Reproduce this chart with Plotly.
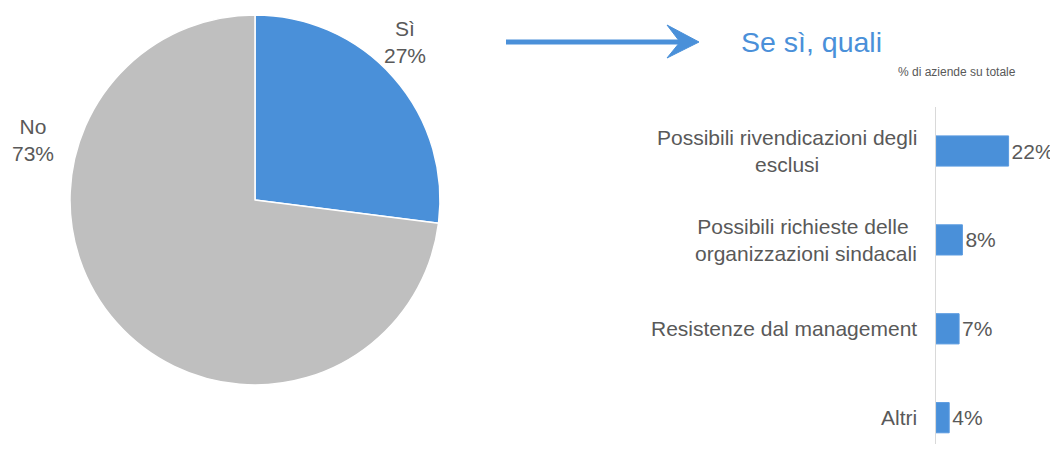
import plotly.graph_objects as go

# Pie data
pie_labels = ["Sì", "No"]
pie_values = [27, 73]
pie_colors = ["#4A90D9", "#BFBFBF"]

# Bar data
bar_categories = [
    "Possibili rivendicazioni degli<br>esclusi",
    "Possibili richieste delle <br>organizzazioni sindacali",
    "Resistenze dal management",
    "Altri",
]
bar_values = [22, 8, 7, 4]
bar_text = ["22%", "8%", "7%", "4%"]

title_text = "Se sì, quali"
subtitle_text = "% di aziende su totale"

OX, OY = 8, 8  # page body margin compensation
W, H = 1058 - OX, 452 - 2 * OY
BLUE = "#4A90D9"
GRAY_TXT = "#595959"
FONT = "Liberation Sans, Arial, sans-serif"

def px(x):
    return (x - OX) / W

def py(y):
    return 1 - (y - OY) / H

fig = go.Figure()

fig.add_trace(go.Pie(
    labels=pie_labels,
    values=pie_values,
    marker=dict(colors=pie_colors, line=dict(color="white", width=1.5)),
    sort=False,
    direction="clockwise",
    rotation=0,
    textinfo="none",
    hoverinfo="label+percent",
    domain=dict(x=[px(70), px(440)], y=[py(385), py(15)]),
    showlegend=False,
))

fig.add_trace(go.Bar(
    x=bar_values,
    y=list(range(len(bar_categories))),
    orientation="h",
    marker=dict(color=BLUE, line=dict(color="#5B9BE0", width=1)),
    text=bar_text,
    textposition="outside",
    textfont=dict(family=FONT, size=21, color=GRAY_TXT),
    cliponaxis=False,
    showlegend=False,
    xaxis="x",
    yaxis="y",
))

# y range so that band centres sit at 151, 240, 329, 418 px (screen)
top_px, bottom_px = 107, H + OY
step = 88.9
first_center = 151
y_top = 0 - (first_center - top_px) / step
y_bot = (len(bar_categories) - 1) + (bottom_px - (first_center + step * (len(bar_categories) - 1))) / step

fig.update_layout(
    width=W, height=H,
    margin=dict(l=0, r=0, t=0, b=0),
    paper_bgcolor="white",
    plot_bgcolor="white",
    bargap=0.66,
    font=dict(family=FONT, color=GRAY_TXT),
    xaxis=dict(
        domain=[px(936), 1.0],
        range=[0, (W + OX - 936) / 3.3],
        visible=False,
        fixedrange=True,
    ),
    yaxis=dict(
        domain=[0, py(top_px)],
        range=[y_bot, y_top],
        showticklabels=False,
        showgrid=False,
        zeroline=False,
        showline=True,
        linecolor="#D9D9D9",
        linewidth=1,
        ticks="",
        anchor="x",
        fixedrange=True,
    ),
)

annotations = []
# pie labels
pie_label_pos = [(405, 42), (33, 140)]
for lab, val, (x, y) in zip(pie_labels, pie_values, pie_label_pos):
    annotations.append(dict(
        x=px(x), y=py(y), xref="paper", yref="paper",
        text=f"{lab}<br>{val}%", showarrow=False,
        font=dict(family=FONT, size=21, color=GRAY_TXT),
        align="center", xanchor="center", yanchor="middle",
    ))

# bar category labels (centered multi-line, right-aligned block)
for i, cat in enumerate(bar_categories):
    annotations.append(dict(
        x=px(919), y=i, xref="paper", yref="y",
        text=cat, showarrow=False,
        font=dict(family=FONT, size=21, color=GRAY_TXT),
        align="center", xanchor="right", yanchor="middle",
    ))

annotations.append(dict(
    x=px(739), y=py(42), xref="paper", yref="paper",
    text=title_text, showarrow=False,
    font=dict(family=FONT, size=28.5, color=BLUE),
    xanchor="left", yanchor="middle",
))
annotations.append(dict(
    x=px(1018), y=py(72), xref="paper", yref="paper",
    text=subtitle_text, showarrow=False,
    font=dict(family=FONT, size=12, color=GRAY_TXT),
    xanchor="right", yanchor="middle",
))
fig.update_layout(annotations=annotations)

# arrow
fig.add_shape(type="line", xref="paper", yref="paper",
              x0=px(506), y0=py(42), x1=px(684), y1=py(42),
              line=dict(color=BLUE, width=5))
fig.add_shape(type="path", xref="paper", yref="paper",
              path=(f"M {px(667)} {py(25)} L {px(699)} {py(42)} "
                    f"L {px(667)} {py(58)} L {px(680)} {py(42)} Z"),
              fillcolor=BLUE, line=dict(color=BLUE, width=1))

fig.write_html("out.html")
